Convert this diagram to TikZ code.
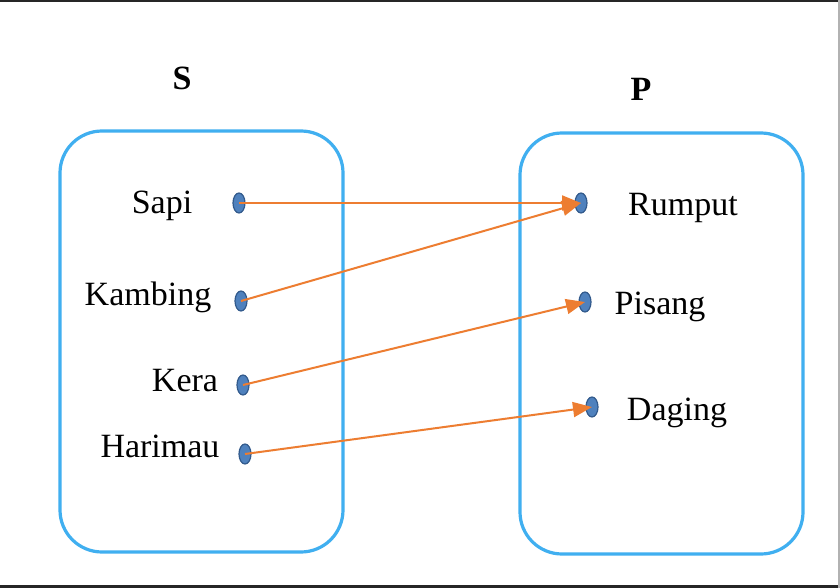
\documentclass[tikz,border=0pt]{standalone}
\usepackage{fontspec}
\setmainfont{Liberation Serif}
\usetikzlibrary{arrows.meta,shapes.geometric}
\definecolor{boxblue}{RGB}{64,175,240}
\definecolor{dotfill}{RGB}{79,129,189}
\definecolor{dotline}{RGB}{50,90,140}
\definecolor{arrorange}{RGB}{237,125,49}
\begin{document}
\begin{tikzpicture}[x=1pt,y=-1pt,
  setbox/.style={draw=boxblue,line width=3.2pt,rounded corners=42pt},
  elem/.style={font=\fontsize{34}{37}\selectfont,anchor=base,inner sep=0pt},
  title/.style={font=\fontsize{34}{38}\selectfont\bfseries,anchor=base,inner sep=0pt},
  pt/.style={ellipse,draw=dotline,line width=1.2pt,fill=dotfill,minimum width=12pt,minimum height=20pt,inner sep=0pt},
  maparrow/.style={draw=arrorange,line width=2pt,-{Triangle[length=19pt,width=15pt]}}]
\useasboundingbox (0,0) rectangle (840,588);
\fill[white] (0,0) rectangle (840,588);
\fill[black!85] (0,0) rectangle (840,2.5);
\fill[black!85] (0,585) rectangle (840,588);
\fill[black!30] (837.5,0) rectangle (840,588);
% titles
\node[title] (tS) at (182,90) {S};
\node[title] (tP) at (641,101) {P};
% set boxes
\draw[setbox] (60,131) rectangle (343,552);
\draw[setbox] (520,133) rectangle (803,554);
% labels
\node[elem] (lsapi) at (162,214) {Sapi};
\node[elem] (lkambing) at (148,305) {Kambing};
\node[elem] (lkera) at (185,391) {Kera};
\node[elem] (lharimau) at (160,457) {Harimau};
\node[elem] (lrumput) at (683,215) {Rumput};
\node[elem] (lpisang) at (660,314) {Pisang};
\node[elem] (ldaging) at (677,420) {Daging};
% dots
\node[pt] (s1) at (239,203) {};
\node[pt] (s2) at (241,301) {};
\node[pt] (s3) at (243,385) {};
\node[pt] (s4) at (245,454) {};
\node[pt] (p1) at (581,203) {};
\node[pt] (p2) at (585,302) {};
\node[pt] (p3) at (592,407) {};
% arrows
\draw[maparrow] (s1.center) -- (p1.center);
\draw[maparrow] (s2.center) -- (p1.center);
\draw[maparrow] (s3.center) -- (p2.center);
\draw[maparrow] (s4.center) -- (p3.center);
\end{tikzpicture}
\end{document}
